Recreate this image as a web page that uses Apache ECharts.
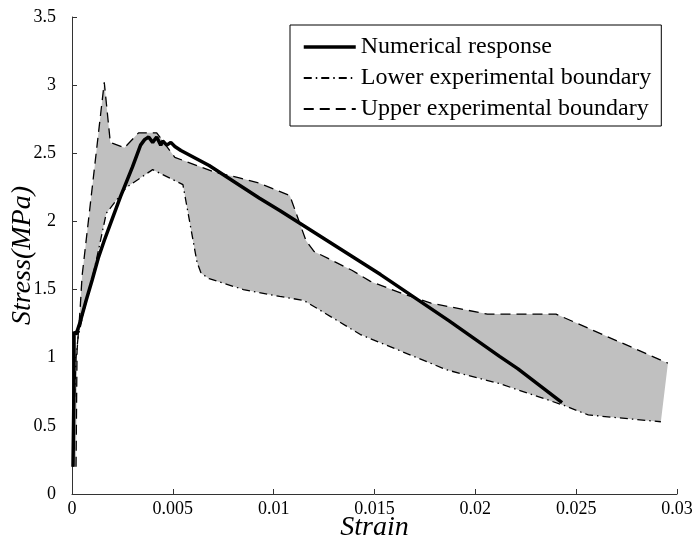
<!DOCTYPE html>
<html>
<head>
<meta charset="utf-8">
<script src="https://cdn.jsdelivr.net/npm/echarts@6/dist/echarts.min.js"></script>
<style>html,body{margin:0;padding:0;background:#fff}#c{width:694px;height:544px}</style>
</head>
<body>
<div id="c"></div>
<script>
// Numerical response
const numStrain = [0.00005,0.0001,0.0001,0.0002,0.0004,0.0007,0.001,0.0013,0.0016,0.002,0.0024,0.003,0.0034,0.0036,0.0038,0.004,0.0042,0.0044,0.0045,0.0047,0.0049,0.0051,0.0054,0.0068,0.0093,0.0103,0.0153,0.0187,0.0212,0.0221,0.0243];
const numStress = [0.2,0.8,1.19,1.17,1.26,1.42,1.57,1.73,1.86,2.02,2.18,2.4,2.56,2.6,2.62,2.58,2.62,2.56,2.59,2.56,2.58,2.55,2.52,2.41,2.17,2.08,1.61,1.27,1.01,0.92,0.67];
// Lower experimental boundary
const lowStrain = [0.00005,0.0001,0.0002,0.0003,0.0006,0.001,0.0013,0.0017,0.0027,0.004,0.0055,0.0062,0.0064,0.0068,0.0085,0.0103,0.0115,0.0143,0.0186,0.0212,0.0244,0.0256,0.0292];
const lowStress = [0.2,0.6,1.0,1.15,1.35,1.58,1.78,2.06,2.25,2.38,2.27,1.7,1.62,1.58,1.50,1.45,1.42,1.17,0.91,0.81,0.65,0.58,0.53];
// Upper experimental boundary
const upStrain = [0.0002,0.00025,0.0004,0.0005,0.0016,0.0019,0.0026,0.0033,0.0042,0.0051,0.0071,0.0083,0.0093,0.0108,0.0116,0.012,0.0139,0.0148,0.0164,0.0178,0.0206,0.024,0.02955];
const upStress = [0.2,1.05,1.35,1.6,3.02,2.58,2.54,2.65,2.65,2.47,2.36,2.32,2.28,2.19,1.86,1.78,1.64,1.56,1.47,1.40,1.32,1.32,0.96];
// Axis ticks
const xTicks = ['0','0.005','0.01','0.015','0.02','0.025','0.03'];
const yTicks = ['0','0.5','1','1.5','2','2.5','3','3.5'];

const zip = (a,b) => a.map((v,i) => [v,b[i]]);
const numData = zip(numStrain, numStress);
const lowData = zip(lowStrain, lowStress);
const upData = zip(upStrain, upStress);
const bandPts = upData.concat(lowData.slice().reverse());

const serif = 'Liberation Serif';
const chart = echarts.init(document.getElementById('c'));
chart.setOption({
  animation: false,
  backgroundColor: '#fff',
  color: ['#000'],
  grid: {left: 72, right: 17, top: 17, bottom: 50, containLabel: false, outerBoundsMode: 'none'},
  legend: {
    data: [
      {name: 'Numerical response', lineStyle: {width: 3.5}},
      {name: 'Lower experimental boundary'},
      {name: 'Upper experimental boundary'}
    ],
    orient: 'vertical', left: 290, top: 25,
    padding: [10, 10, 5, 12], itemGap: 7, itemWidth: 52, itemHeight: 14,
    borderColor: '#000', borderWidth: 1, backgroundColor: '#fff',
    itemStyle: {opacity: 0},
    textStyle: {fontFamily: serif, fontSize: 24, color: '#000'}
  },
  xAxis: {
    type: 'value', min: 0, max: 0.03, interval: 0.005,
    name: 'Strain', nameLocation: 'middle', nameGap: 20, nameMoveOverlap: false,
    nameTextStyle: {fontFamily: serif, fontStyle: 'italic', fontSize: 28, color: '#000'},
    axisLine: {show: true, lineStyle: {color: '#333', width: 1}},
    axisTick: {inside: true, length: 5, lineStyle: {color: '#333'}},
    axisLabel: {fontFamily: serif, fontSize: 18, color: '#000', margin: 6,
      formatter: v => xTicks[Math.round(v / 0.005)]},
    splitLine: {show: false}
  },
  yAxis: {
    type: 'value', min: 0, max: 3.5, interval: 0.5,
    name: 'Stress(MPa)', nameLocation: 'middle', nameGap: 35, nameRotate: 90, nameMoveOverlap: false,
    nameTextStyle: {fontFamily: serif, fontStyle: 'italic', fontSize: 28, color: '#000'},
    axisLine: {show: true, lineStyle: {color: '#333', width: 1}},
    axisTick: {show: true, inside: true, length: 5, lineStyle: {color: '#333'}},
    axisLabel: {fontFamily: serif, fontSize: 18, color: '#000', margin: 16,
      formatter: v => yTicks[Math.round(v / 0.5)]},
    splitLine: {show: false}
  },
  series: [
    {
      type: 'custom', name: 'band', z: 1, silent: true,
      data: [[0, 0]],
      renderItem: function (params, api) {
        const pts = bandPts.map(p => api.coord(p));
        return {type: 'polygon', shape: {points: pts}, style: {fill: '#c0c0c0', stroke: null}};
      }
    },
    {
      type: 'line', name: 'Lower experimental boundary', data: lowData, z: 3,
      symbol: 'none', showSymbol: false, itemStyle: {color: '#000'},
      lineStyle: {color: '#000', width: 1.3, type: [8, 4, 1.5, 4]}
    },
    {
      type: 'line', name: 'Upper experimental boundary', data: upData, z: 3,
      symbol: 'none', showSymbol: false, itemStyle: {color: '#000'},
      lineStyle: {color: '#000', width: 1.3, type: [10, 6]}
    },
    {
      type: 'line', name: 'Numerical response', data: numData, z: 4,
      symbol: 'none', showSymbol: false, itemStyle: {color: '#000'},
      lineStyle: {color: '#000', width: 3.5}
    }
  ]
});
</script>
</body>
</html>
